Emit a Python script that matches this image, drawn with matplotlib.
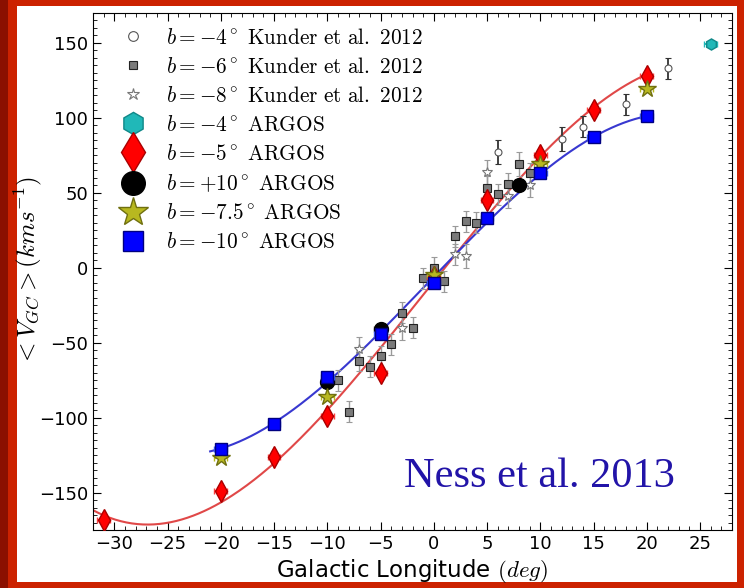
"""
Mean galactocentric velocity versus galactic longitude:
ARGOS fields compared with the Kunder et al. 2012 BRAVA fields.
"""

import matplotlib.pyplot as plt
import numpy as np
from matplotlib.lines import Line2D
from matplotlib.patches import Rectangle

plt.rcParams['mathtext.fontset'] = 'cm'

# Kunder et al. 2012, b = -4 (open circles)
k4_l = [6, 12, 14, 18, 22]
k4_v = [77, 86, 94, 109, 133]
k4_err = [8, 8, 7, 7, 7]

# Kunder et al. 2012, b = -6 (grey squares)
k6_l = [-9, -8, -7, -6, -5, -4, -3, -2, -1, 0, 1, 2, 3, 4, 5, 6, 7, 8, 9]
k6_v = [-75, -96, -62, -66, -59, -51, -30, -40, -7, 0, -9, 21, 31, 30, 53, 49, 56, 69, 63]
k6_err = [7, 7, 7, 7, 7, 7, 7, 7, 7, 7, 7, 7, 7, 7, 8, 7, 7, 8, 7]

# Kunder et al. 2012, b = -8 (open stars)
k8_l = [-7, -3, 2, 3, 5, 7, 9]
k8_v = [-54, -40, 9, 8, 64, 48, 55]
k8_err = [8, 8, 7, 8, 8, 8, 8]

# ARGOS fields
a4_l = [26]
a4_v = [149]

a5_l = [-31, -20, -15, -10, -5, 0, 5, 10, 15, 20]
a5_v = [-168, -149, -126, -99, -70, -6, 45, 75, 105, 128]

a10p_l = [-10, -5, 8]
a10p_v = [-76, -41, 55]

a75_l = [-20, -10, 0, 10, 20]
a75_v = [-127, -86, -5, 69, 119]

a10_l = [-20, -15, -10, -5, 0, 5, 10, 15, 20]
a10_v = [-121, -104, -73, -44, -10, 33, 63, 87, 101]

ARGOS_XERR = 0.6

fig = plt.figure(figsize=(7.44, 5.88), dpi=100)

# red slide frame around the white panel
fig.patch.set_facecolor('#cc2200')
fig.patches.append(Rectangle((0, 0), 8 / 744, 1, transform=fig.transFigure,
                             facecolor='#8b1000', edgecolor='none', zorder=-10))
fig.patches.append(Rectangle((17 / 744, 6 / 588), 720 / 744, 576 / 588,
                             transform=fig.transFigure, facecolor='white',
                             edgecolor='none', zorder=-10))

ax = fig.add_axes([93 / 744, 58 / 588, 639 / 744, 517 / 588])

# smooth fits through the b=-5 and b=-10 ARGOS fields
red_fit = np.poly1d(np.polyfit(a5_l, a5_v, 3))
xr = np.linspace(-32, 20, 300)
ax.plot(xr, red_fit(xr), color='#e04848', lw=1.5, zorder=2)

blue_fit = np.poly1d(np.polyfit(a10_l, a10_v, 3))
xb = np.linspace(-21, 20, 300)
ax.plot(xb, blue_fit(xb), color='#3838d0', lw=1.5, zorder=2)

# Kunder et al. points
ax.errorbar(k6_l, k6_v, yerr=k6_err, fmt='s', ms=5.5, mfc='#7a7a7a', mec='#222222',
            mew=0.8, ecolor='#9a9a9a', elinewidth=1, capsize=2, zorder=3)
ax.errorbar(k8_l, k8_v, yerr=k8_err, fmt='*', ms=7, mfc='white', mec='#777777',
            mew=0.8, ecolor='#9a9a9a', elinewidth=1, capsize=2, zorder=3)
ax.errorbar(k4_l, k4_v, yerr=k4_err, fmt='o', ms=5, mfc='white', mec='#555555',
            mew=0.8, ecolor='#333333', elinewidth=1.3, capsize=2, zorder=3)

# ARGOS points
ax.errorbar(a4_l, a4_v, xerr=ARGOS_XERR, fmt='h', ms=8, mfc='#20b8b8', mec='#108888',
            ecolor='#20b8b8', capsize=2, zorder=4)
ax.errorbar(a5_l, a5_v, xerr=ARGOS_XERR, fmt='d', ms=11, mfc='#ff0000', mec='#aa0000',
            ecolor='#ff4040', capsize=2, zorder=4)
ax.errorbar(a10p_l, a10p_v, xerr=ARGOS_XERR, fmt='o', ms=10, mfc='black', mec='black',
            ecolor='#444444', capsize=2, zorder=4)
ax.errorbar(a75_l, a75_v, xerr=ARGOS_XERR, fmt='*', ms=13, mfc='#b8b820', mec='#707010',
            ecolor='#b8b820', capsize=2, zorder=4)
ax.errorbar(a10_l, a10_v, xerr=ARGOS_XERR, fmt='s', ms=8.5, mfc='#0000ff', mec='#000080',
            ecolor='#4060ff', capsize=2, zorder=5)

# legend with bigger markers and no error bars
handles = [
    Line2D([], [], ls='none', marker='o', ms=7, mfc='white', mec='#555555', mew=0.8),
    Line2D([], [], ls='none', marker='s', ms=6, mfc='#7a7a7a', mec='#222222', mew=0.8),
    Line2D([], [], ls='none', marker='*', ms=9, mfc='white', mec='#777777', mew=0.8),
    Line2D([], [], ls='none', marker='h', ms=16, mfc='#20b8b8', mec='#108888'),
    Line2D([], [], ls='none', marker='d', ms=20, mfc='#ff0000', mec='#aa0000'),
    Line2D([], [], ls='none', marker='o', ms=17, mfc='black', mec='black'),
    Line2D([], [], ls='none', marker='*', ms=22, mfc='#b8b820', mec='#707010'),
    Line2D([], [], ls='none', marker='s', ms=14, mfc='#0000ff', mec='#000080'),
]
labels = [
    r'$b=-4^\circ\ \mathrm{Kunder\ et\ al.\ 2012}$',
    r'$b=-6^\circ\ \mathrm{Kunder\ et\ al.\ 2012}$',
    r'$b=-8^\circ\ \mathrm{Kunder\ et\ al.\ 2012}$',
    r'$b=-4^\circ\ \mathrm{ARGOS}$',
    r'$b=-5^\circ\ \mathrm{ARGOS}$',
    r'$b=+10^\circ\ \mathrm{ARGOS}$',
    r'$b=-7.5^\circ\ \mathrm{ARGOS}$',
    r'$b=-10^\circ\ \mathrm{ARGOS}$',
]
ax.legend(handles, labels, loc='upper left', bbox_to_anchor=(0.013, 1.0),
          frameon=False, fontsize=15.3, labelspacing=0.42, handletextpad=0.75,
          borderaxespad=0.3, handlelength=1.6)

ax.text(-2.8, -146, 'Ness et al. 2013', family='Liberation Serif', fontsize=30.5,
        color='#2214a8', va='baseline', ha='left', zorder=6)

ax.set_xlim(-32, 28)
ax.set_ylim(-175, 170)
ax.set_xticks(np.arange(-30, 26, 5))
ax.set_xticks(np.arange(-32, 29, 1), minor=True)
ax.set_yticks(np.arange(-150, 151, 50))
ax.set_yticks(np.arange(-175, 171, 5), minor=True)
ax.tick_params(which='both', direction='in', top=True, right=True, labelsize=13)
ax.tick_params(which='major', length=6)
ax.tick_params(which='minor', length=3)

ax.set_xlabel(r'Galactic Longitude $(deg)$', fontsize=16.5, labelpad=3)
ax.set_ylabel(r'$<V_{GC}>(kms^{-1})$', fontsize=18)
ax.yaxis.set_label_coords(-0.077, 0.5)

fig.savefig('out.png', dpi=100)
